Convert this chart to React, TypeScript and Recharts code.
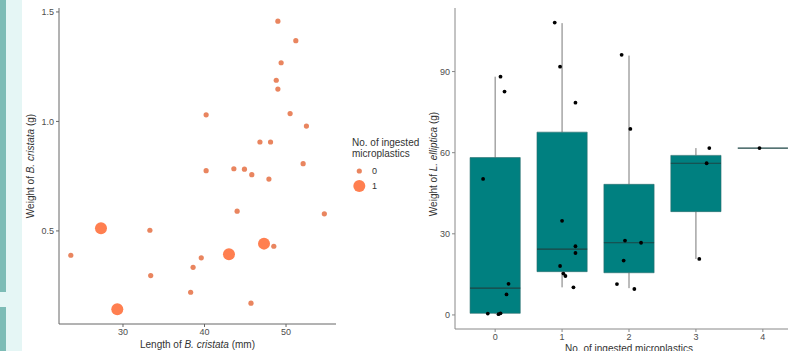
import React from 'react';
import {
  ScatterChart,
  Scatter,
  XAxis,
  YAxis,
  ReferenceArea,
  ReferenceLine
} from 'recharts';

// left panel: B. cristata length vs weight
const lengthMm = [
  49.0, 51.2, 49.4, 48.8, 49.0, 40.2, 50.5, 52.5, 46.8, 48.1, 52.1, 40.2, 43.6, 44.9, 45.8,
  47.9, 44.0, 54.7, 47.3, 48.5, 43.0, 39.6, 38.6, 38.3, 45.7, 27.3, 33.3, 23.6, 33.4, 29.3
];
const weightG = [
  1.458, 1.369, 1.268, 1.188, 1.148, 1.03, 1.036, 0.979, 0.906, 0.906, 0.807, 0.775, 0.784, 0.782,
  0.757, 0.737, 0.59, 0.578, 0.442, 0.43, 0.394, 0.377, 0.334, 0.22, 0.17, 0.512, 0.503, 0.389,
  0.296, 0.142
];
const ingested = [
  0, 0, 0, 0, 0, 0, 0, 0, 0, 0, 0, 0, 0, 0, 0, 0, 0, 0, 1, 0, 1, 0, 0, 0, 0, 1, 0, 0, 0, 1
];
const leftXTicks = [30, 40, 50];
const leftYTicks = [0.5, 1.0, 1.5];

// right panel: L. elliptica boxplots
const categories = [0, 1, 2, 3, 4];
const whiskerLow = [0.3, 10.2, 9.9, 20.7, 61.7];
const q1 = [0.6, 16.0, 15.6, 38.2, 61.7];
const median = [9.9, 24.3, 26.7, 56.1, 61.7];
const q3 = [58.2, 67.6, 48.3, 59.0, 61.7];
const whiskerHigh = [88.1, 107.9, 95.9, 61.7, 61.7];

const pointX = [
  0.08, 0.14, -0.18, 0.2, 0.17, -0.11, 0.05, 0.08,
  0.89, 0.97, 1.2, 1.0, 1.2, 1.2, 0.97, 1.02, 1.05, 1.17,
  1.89, 2.02, 1.94, 2.18, 1.92, 1.82, 2.08,
  3.2, 3.16, 3.05,
  3.95
];
const pointY = [
  88.1, 82.6, 50.3, 11.5, 7.6, 0.5, 0.3, 0.6,
  108.1, 91.8, 78.5, 34.8, 25.4, 22.9, 18.1, 15.3, 14.4, 10.2,
  96.2, 68.8, 27.5, 26.7, 20.1, 11.4, 9.6,
  61.7, 56.1, 20.7,
  61.7
];
const rightYTicks = [0, 30, 60, 90];

const smallColor = '#e9855f';
const bigColor = '#ff7f50';
const teal = '#008080';

const shellData = lengthMm.map((x, i) => ({ x, y: weightG[i], n: ingested[i] }));
const shell0 = shellData.filter((d) => d.n === 0);
const shell1 = shellData.filter((d) => d.n === 1);
const clamPoints = pointX.map((x, i) => ({ x, y: pointY[i] }));

const tickStyle = { fontSize: 9, fill: '#4d4d4d' };

const rotTitle = (x: number, y: number, pre: string, it: string, post: string) => () => (
  <text
    x={x}
    y={y}
    transform={`rotate(-90 ${x} ${y})`}
    textAnchor="middle"
    dominantBaseline="central"
    fontSize={10}
    fill="#333"
  >
    {pre}
    <tspan fontStyle="italic">{it}</tspan>
    {post}
  </text>
);

const flatTitle = (x: number, y: number, pre: string, it: string, post: string) => () => (
  <text x={x} y={y} textAnchor="middle" fontSize={10} fill="#333">
    {pre}
    <tspan fontStyle="italic">{it}</tspan>
    {post}
  </text>
);

const App = () => {
  return (
    <div
      style={{
        position: 'absolute',
        left: 0,
        top: 0,
        width: 788,
        height: 351,
        overflow: 'hidden',
        background: '#fff',
        fontFamily: '"Liberation Sans", Arial, sans-serif'
      }}
    >
      {/* page edge strips */}
      <div style={{ position: 'absolute', left: 0, top: 0, width: 22, height: 351, background: '#e5f6f5' }} />
      <div style={{ position: 'absolute', left: 0, top: 0, width: 6, height: 292, background: '#7dbcb6' }} />
      <div style={{ position: 'absolute', left: 0, top: 307, width: 6, height: 44, background: '#7dbcb6' }} />

      <div style={{ position: 'absolute', left: 0, top: 0 }}>
        <ScatterChart width={345} height={351} margin={{ top: 8, right: 9, bottom: 0, left: 0 }}>
          <XAxis
            type="number"
            dataKey="x"
            domain={[22.15, 56.13]}
            allowDataOverflow
            ticks={leftXTicks}
            tick={tickStyle}
            tickSize={3}
            height={27}
            axisLine={{ stroke: '#666' }}
            tickLine={{ stroke: '#666' }}
            label={{ content: flatTitle(197.5, 348, 'Length of ', 'B. cristata', ' (mm)') }}
          />
          <YAxis
            type="number"
            dataKey="y"
            domain={[0.075, 1.518]}
            allowDataOverflow
            ticks={leftYTicks}
            tickFormatter={(v: number) => v.toFixed(1)}
            tick={tickStyle}
            tickSize={3}
            width={59}
            axisLine={{ stroke: '#666' }}
            tickLine={{ stroke: '#666' }}
            label={{ content: rotTitle(30, 166, 'Weight of ', 'B. cristata', ' (g)') }}
          />
          <Scatter
            data={shell0}
            isAnimationActive={false}
            shape={(p: any) => <circle cx={p.cx} cy={p.cy} r={2.6} fill={smallColor} />}
          />
          <Scatter
            data={shell1}
            isAnimationActive={false}
            shape={(p: any) => <circle cx={p.cx} cy={p.cy} r={6} fill={bigColor} />}
          />
        </ScatterChart>
      </div>

      {/* legend */}
      <div
        style={{
          position: 'absolute',
          left: 352,
          top: 137,
          fontSize: 10,
          lineHeight: '11px',
          color: '#333'
        }}
      >
        No. of ingested
        <br />
        microplastics
      </div>
      <svg style={{ position: 'absolute', left: 345, top: 160 }} width={50} height={40}>
        <circle cx={14.3} cy={11} r={2.6} fill={smallColor} />
        <text x={27} y={11} dominantBaseline="central" fontSize={9} fill="#333">0</text>
        <circle cx={14.3} cy={26} r={6} fill={bigColor} />
        <text x={27} y={26} dominantBaseline="central" fontSize={9} fill="#333">1</text>
      </svg>

      <div style={{ position: 'absolute', left: 400, top: 0 }}>
        <ScatterChart width={403} height={351} margin={{ top: 8, right: 0, bottom: 0, left: 0 }}>
          <XAxis
            type="number"
            dataKey="x"
            domain={[-0.6, 4.6]}
            allowDataOverflow
            ticks={categories}
            tick={tickStyle}
            tickSize={3}
            height={22}
            axisLine={{ stroke: '#888' }}
            tickLine={{ stroke: '#888' }}
            label={{ content: flatTitle(229, 352, 'No. of ingested microplastics', '', '') }}
          />
          <YAxis
            type="number"
            dataKey="y"
            domain={[-5.2, 113.5]}
            allowDataOverflow
            ticks={rightYTicks}
            tick={tickStyle}
            tickSize={3}
            width={55}
            axisLine={{ stroke: '#888' }}
            tickLine={{ stroke: '#888' }}
            label={{ content: rotTitle(33, 164, 'Weight of ', 'L. elliptica', ' (g)') }}
          />
          {categories.map((c, i) => (
            <ReferenceLine
              key={`wh${c}`}
              segment={[{ x: c, y: q3[i] }, { x: c, y: whiskerHigh[i] }]}
              stroke="#555"
              strokeWidth={0.8}
              ifOverflow="visible"
            />
          ))}
          {categories.map((c, i) => (
            <ReferenceLine
              key={`wl${c}`}
              segment={[{ x: c, y: whiskerLow[i] }, { x: c, y: q1[i] }]}
              stroke="#555"
              strokeWidth={0.8}
              ifOverflow="visible"
            />
          ))}
          {categories.map((c, i) => (
            <ReferenceArea
              key={`box${c}`}
              x1={c - 0.375}
              x2={c + 0.375}
              y1={q1[i]}
              y2={q3[i]}
              fill={teal}
              fillOpacity={1}
              stroke="#2a6b6b"
              strokeWidth={0.6}
              ifOverflow="visible"
            />
          ))}
          {categories.map((c, i) => (
            <ReferenceLine
              key={`md${c}`}
              segment={[{ x: c - 0.375, y: median[i] }, { x: c + 0.375, y: median[i] }]}
              stroke="#1d4545"
              strokeWidth={1.2}
              ifOverflow="visible"
            />
          ))}
          <Scatter
            data={clamPoints}
            isAnimationActive={false}
            shape={(p: any) => <circle cx={p.cx} cy={p.cy} r={1.9} fill="#000" />}
          />
        </ScatterChart>
      </div>
    </div>
  );
};

export default App;
